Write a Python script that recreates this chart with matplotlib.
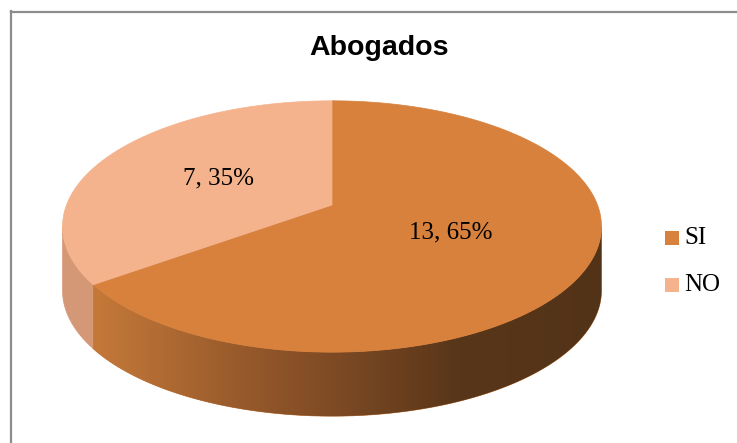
import numpy as np
import matplotlib
matplotlib.use("Agg")
import matplotlib.pyplot as plt
from matplotlib.patches import Polygon, Rectangle
from matplotlib.colors import LinearSegmentedColormap
from matplotlib.lines import Line2D

# ---- data ----
title = "Abogados"
categories = ["SI", "NO"]
values = [13, 7]
top_colors = ["#D8813D", "#F4B38C"]
side_colors = ["#C07538", "#D49877"]
label_r = [0.485, 0.5]

# ---- geometry (pixel space) ----
W, H = 737, 443
CX, CY = 332, 205      # projected pie centre
A, B = 265.5, 122.0    # projected radii
K = 0.171              # perspective factor
D = 64                 # thickness

fig = plt.figure(figsize=(W / 100, H / 100), dpi=100)
ax = fig.add_axes([0, 0, 1, 1])
ax.set_xlim(0, W)
ax.set_ylim(H, 0)
ax.axis("off")


def proj(alpha, r=1.0):
    a = np.radians(alpha)
    x = r * np.sin(a)
    y = -r * np.cos(a)
    w = 1 - K * y
    return CX + A * x / w, CY + B * y / w


total = sum(values)
angles = np.cumsum([0] + [v / total * 360 for v in values])

a_right = np.degrees(np.arccos(-K))
a_left = 360 - a_right

# gradient for SI side
grad_cmap = LinearSegmentedColormap.from_list(
    "side",
    [(0.0, "#C57939"), (0.3, "#96592B"), (0.5, "#7A4823"),
     (0.72, "#583619"), (1.0, "#533318")])

# ---- sides ----
for i in range(len(values)):
    a1, a2 = max(angles[i], a_right), min(angles[i + 1], a_left)
    if a2 <= a1:
        continue
    t = np.linspace(a1, a2, 200)
    xs, ys = proj(t)
    px = np.concatenate([xs, xs[::-1]])
    py = np.concatenate([ys, ys[::-1] + D])
    poly = Polygon(np.column_stack([px, py]), closed=True,
                   facecolor=side_colors[i], edgecolor=side_colors[i],
                   linewidth=0.5, zorder=1)
    ax.add_patch(poly)
    if i == 0:
        x0, x1 = px.min(), px.max()
        grad = np.linspace(0, 1, 256).reshape(1, -1)
        im = ax.imshow(grad, cmap=grad_cmap, aspect="auto",
                       extent=[x0, x1, py.max() + 2, py.min() - 2],
                       zorder=1.5, interpolation="bilinear")
        im.set_clip_path(poly)
ax.set_xlim(0, W)
ax.set_ylim(H, 0)

# ---- tops ----
for i in range(len(values)):
    t = np.linspace(angles[i], angles[i + 1], 300)
    xs, ys = proj(t)
    px = np.concatenate([[CX], xs])
    py = np.concatenate([[CY], ys])
    ax.add_patch(Polygon(np.column_stack([px, py]), closed=True,
                         facecolor=top_colors[i], edgecolor=top_colors[i],
                         linewidth=0.5, zorder=2))

# ---- labels ----
for i in range(len(values)):
    mid = (angles[i] + angles[i + 1]) / 2
    lx, ly = proj(mid, label_r[i])
    pct = round(values[i] / total * 100)
    ax.text(lx, ly, f"{values[i]}, {pct}%", ha="center", va="center",
            fontsize=18, family="Liberation Serif", color="black", zorder=3)

# ---- title ----
ax.text(379, 55, title, ha="center", va="baseline", fontsize=20.5,
        family="Liberation Sans", fontweight="bold", color="black")

# ---- legend ----
for i, cat in enumerate(categories):
    y = 238 + 47 * i
    ax.add_patch(Rectangle((665, y - 7), 14, 14, facecolor=top_colors[i],
                           edgecolor="none", zorder=3))
    ax.text(684, y, cat, ha="left", va="center", fontsize=18,
            family="Liberation Serif", color="black")

# ---- border ----
ax.add_line(Line2D([11.5, 11.5], [11, H], color="#8C8C8C", lw=1.6))
ax.add_line(Line2D([11, W], [11.5, 11.5], color="#8C8C8C", lw=1.6))

fig.savefig("out.png", dpi=100)
